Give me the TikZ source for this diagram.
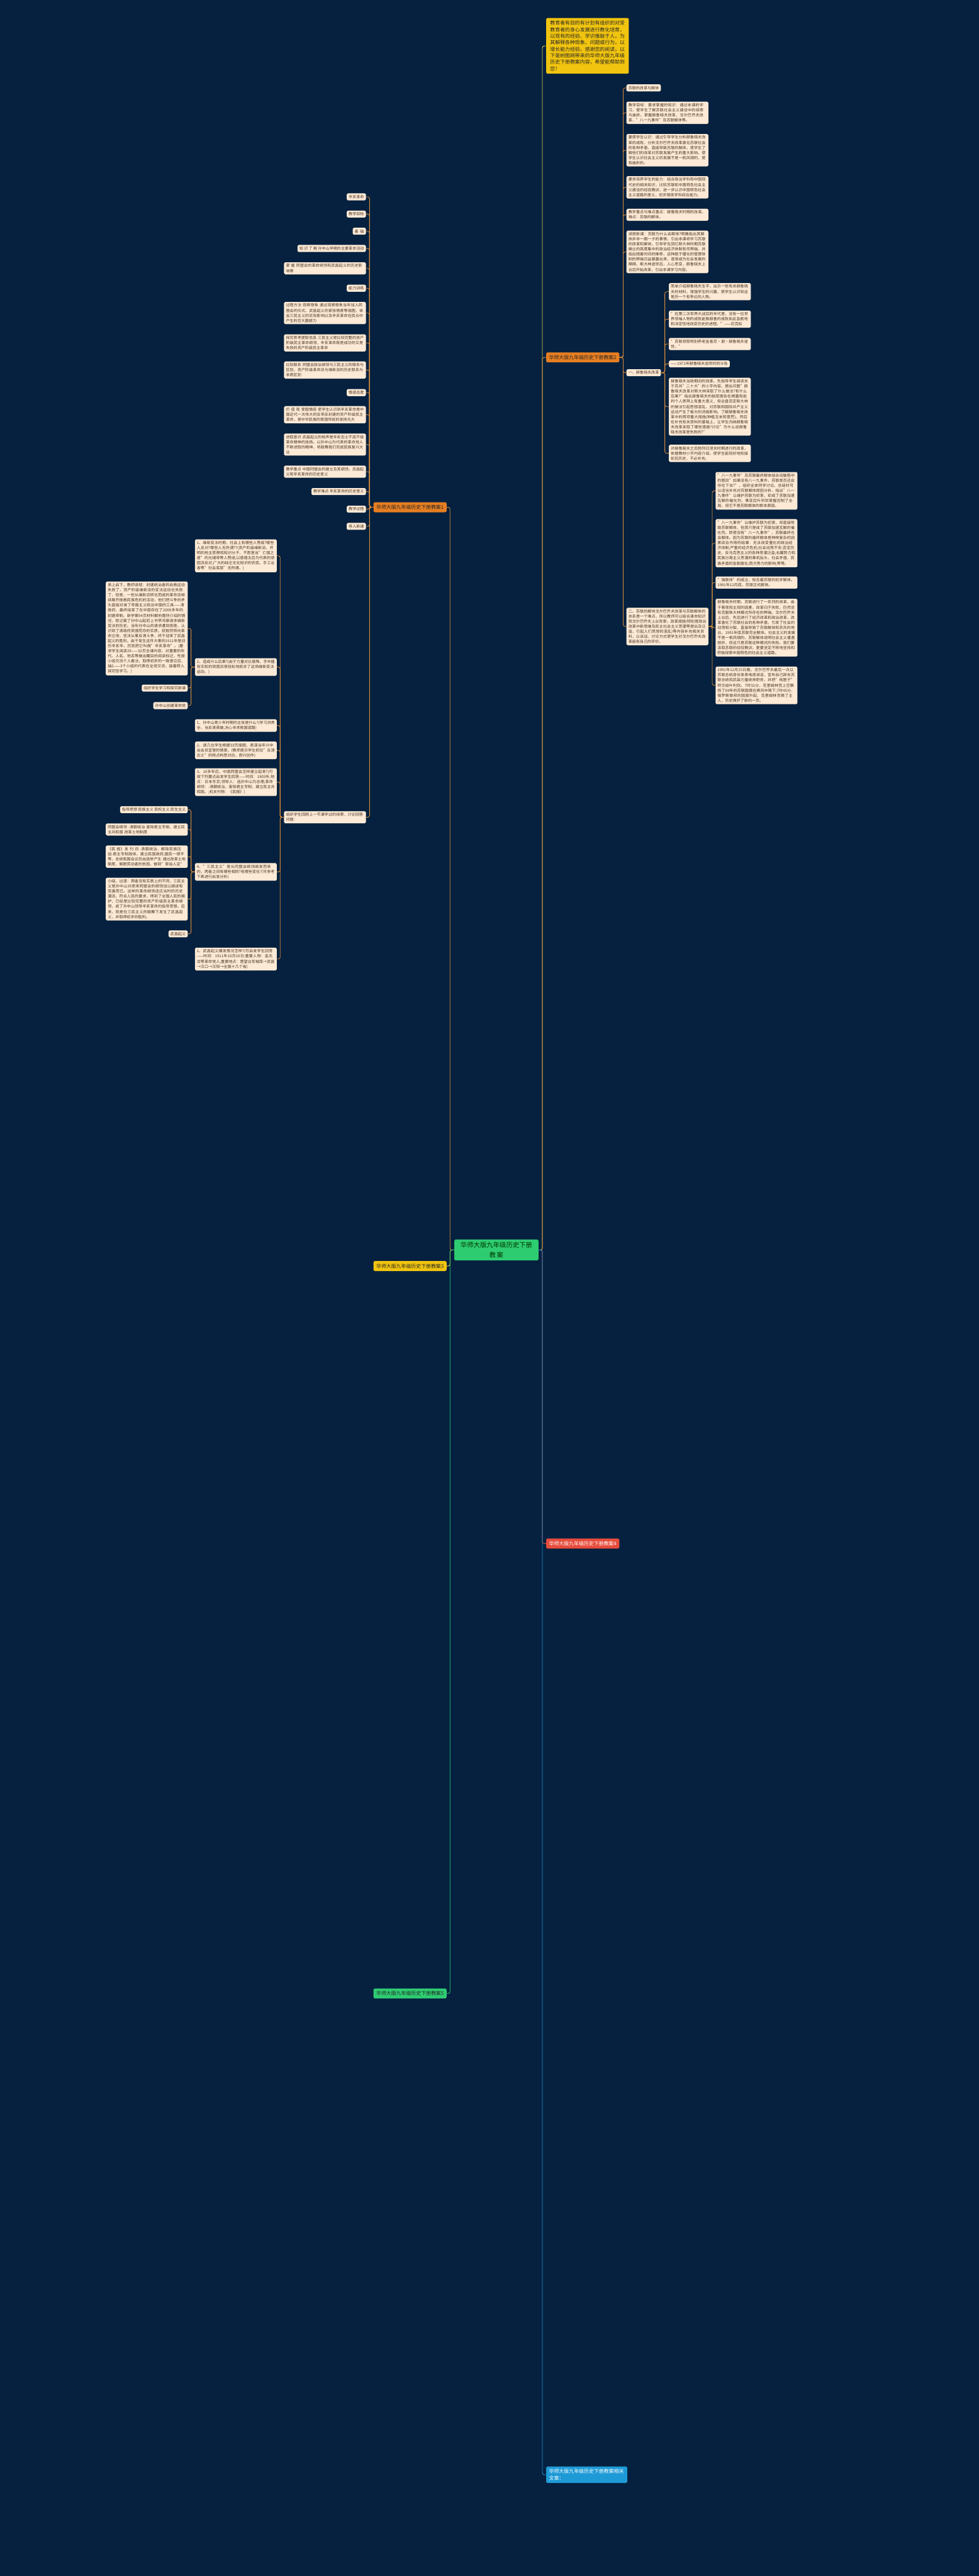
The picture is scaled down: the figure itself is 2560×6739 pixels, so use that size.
\documentclass[tikz,border=0pt]{standalone}
\usepackage{fontspec}
\setmainfont{Noto Sans CJK SC}
\XeTeXlinebreaklocale "zh"
\XeTeXlinebreakskip=0pt plus 1pt
\definecolor{bg}{HTML}{05213F}
\definecolor{peach}{HTML}{FCE9D6}
\definecolor{leaftxt}{HTML}{4A3520}
\definecolor{orangeline}{HTML}{D98A3A}
\definecolor{orangehead}{HTML}{E67E22}
\definecolor{yellowhead}{HTML}{F1C40F}
\definecolor{redhead}{HTML}{E74C3C}
\definecolor{greenhead}{HTML}{2ECC71}
\definecolor{bluehead}{HTML}{1E9BD7}
\tikzset{
  every node/.style={font=\fontsize{10}{13.3}\selectfont},
  leaf/.style={rounded corners=3pt, inner xsep=5pt, inner ysep=4.5pt, align=left},
  lo/.style={leaf, fill=peach, text=leaftxt},
  w/.style={text width=204pt},
  head/.style={rounded corners=4pt, inner xsep=7.5pt, inner ysep=7pt, font=\fontsize{13}{17}\selectfont},
  lineo/.style={draw=orangeline, line width=1.4pt, rounded corners=5pt},
  liney/.style={draw=yellowhead!80!white, line width=1.4pt, rounded corners=5pt},
  lineg/.style={draw=greenhead, line width=1.4pt, rounded corners=5pt},
  liner/.style={draw=redhead, line width=1.4pt, rounded corners=5pt},
  lineb/.style={draw=bluehead, line width=1.4pt, rounded corners=5pt},
}
\begin{document}
\begin{tikzpicture}[x=1pt,y=-1pt]
\useasboundingbox[fill=bg] (0,0) rectangle (2560,6739);

% centre and branches
\node[head, fill=greenhead, text=black!80!green, inner xsep=14pt, inner ysep=7pt, align=center,
  font=\fontsize{17}{25}\selectfont, text width=192pt] (root) at (1298,3270) {华师大版九年级历史下册\\教案};
\node[head, fill=yellowhead, text=black!85, text width=195pt, inner xsep=10.5pt, inner ysep=7.5pt, align=left,
  anchor=west] (intro) at (1428,120) {教育者有目的有计划有组织的对受教育者的身心发展进行教化培育，以现有的经验、学识推敲于人，为其解释各种现象、问题或行为，以增长能力经验。感谢您的阅读，以下是树图网带来的华师大版九年级历史下册教案内容，希望能帮助到您！};
\node[head, fill=orangehead, text=black!85, anchor=east] (b1) at (1168,1327) {华师大版九年级历史下册教案1};
\node[head, fill=orangehead, text=black!85, anchor=west] (b2) at (1428,935) {华师大版九年级历史下册教案2};
\node[head, fill=yellowhead, text=black!85, anchor=east] (b3) at (1168,3312) {华师大版九年级历史下册教案3};
\node[head, fill=redhead, text=white, anchor=west] (b4) at (1428,4038) {华师大版九年级历史下册教案4};
\node[head, fill=greenhead, text=black!85, anchor=east] (b5) at (1168,5215) {华师大版九年级历史下册教案5};
\node[head, fill=bluehead, text=white, text width=197pt, align=left, anchor=west] (b6) at (1428,6474) {华师大版九年级历史下册教案相关文章：};

% branch 1
\node[lo, anchor=east] (b1a) at (957,515) {辛亥革命};
\node[lo, anchor=east] (b1b) at (957,560) {教学目标};
\node[lo, anchor=east] (b1c) at (957,605) {基\ \ 础};
\node[lo, anchor=east] (b1d) at (957,650) {知\ 识\ 了\ 解\ 孙中山早期的主要革命活动};
\node[lo, w, anchor=east] (b1e) at (957,702) {掌\ 握\ 同盟会的革命纲领和武昌起义的历史影响等};
\node[lo, anchor=east] (b1f) at (957,754) {能力训练};
\node[lo, w, anchor=east] (b1g) at (957,819) {过程方法 观察想象 通过观察想象当年加入同盟会的仪式、武昌起义的紧张情景等插图，体会三民主义的实际影响以及辛亥革命在民众中产生的巨大震撼力};
\node[lo, w, anchor=east] (b1h) at (957,897) {探究思考提取信息 三民主义是比较完整的资产阶级民主革命纲领，辛亥革命既是成功的又是失败的资产阶级民主革命};
\node[lo, w, anchor=east] (b1i) at (957,968) {比较联系 同盟会政治纲领与三民主义的联系与区别，资产阶级革命派与维新派的历史联系与本质区别};
\node[lo, anchor=east] (b1j) at (957,1027) {情感态度};
\node[lo, w, anchor=east] (b1k) at (957,1085) {价\ 值\ 观 爱国情感 使学生认识到辛亥革命是中国近代一次伟大的反帝反封建的资产阶级民主革命，是中华民族的爱国传统的发扬光大};
\node[lo, w, anchor=east] (b1l) at (957,1163) {进取意识 武昌起义的枪声是辛亥志士不屈不挠革命精神的张扬。以孙中山为代表的革命党人不断进取的精神，将鼓舞我们完成民族复兴大业};
\node[lo, w, anchor=east] (b1m) at (957,1234) {教学重点 中国同盟会的建立及其纲领，武昌起义和辛亥革命的历史意义};
\node[lo, anchor=east] (b1n) at (957,1286) {教学难点 辛亥革命的历史意义};
\node[lo, anchor=east] (b1o) at (957,1332) {教学过程};
\node[lo, anchor=east] (b1p) at (957,1377) {导入新课};
\node[lo, w, anchor=east] (b1q) at (957,2138) {组织学生回顾上一节课学过的线索，讨论回答问题：};

\node[lo, w, anchor=east] (q1) at (724,1454) {1、维新变法时期，社会上有哪些人赞成?哪些人反对?哪些人无所谓??(资产阶级维新派、开明的地主官僚和知识分子、不愿意当"亡国之君"的光绪帝等人赞成;以慈禧太后为代表的顽固派反对;广大的缺乏文化知识的农民、手工业者等"社会底层"无所谓。)};
\node[lo, w, anchor=east] (q2) at (724,1745) {2、造成什么后果?(由于力量对比悬殊，手中握有实权的顽固派很轻松地扼杀了这场维新变法运动。)};
\node[lo, w, anchor=east] (q3) at (724,1898) {1、孙中山青少年时期的主张是什么?(学习洪秀全，当反清英雄;决心寻求救国道路)};
\node[lo, w, anchor=east] (q4) at (724,1963) {2、请几位学生根据33页插图，表演当年兴中会会员宣誓的情景。(教师提示学生抓住"反清志士"的特点构思对白，即兴创作)};
\node[lo, w, anchor=east] (q5) at (724,2046) {3、10多年后，中国同盟会怎样建立起来?(可按下列要点启发学生回答——时间：1905年;地点：日本东京;领导人：选孙中山为总理;革命纲领：-清朝统治，废除君主专制，建立民主共和国。;机关刊物：《民报》)};
\node[lo, w, anchor=east] (q6) at (724,2281) {4、"三民主义"是从同盟会纲领阐发而来的，两者之间有哪些相同?有哪些变化?(可参考下表进行启发分析)};
\node[lo, w, anchor=east] (q7) at (724,2509) {1、武昌起义爆发情况怎样?(可启发学生回答——时间：1911年10月10日;重要人物：金兆龙等革命党人;重要地点：楚望台军械库→武昌→汉口→汉阳→全国十几个省)};

\node[lo, w, anchor=east] (q2a) at (491,1644) {承上启下，教师讲授：封建统治者的自救运动失败了，资产阶级维新派的变法运动也失败了，但是，一些从维新派转化而成的革命派继续展开挽救民族危机的活动，他们把斗争的矛头直接对准了帝国主义统治中国的工具——清政府，最终结束了在中国存在了2000多年的封建帝制。新学案94页材料解析题所介绍的情况，就记载了孙中山起初上书李鸿章请求维新变法的历史。当年孙中山的请求遭到拒绝，认识到了清政府卖国苟存的实质，就毅然转向革命立场，坚决从事反清斗争，终于迎来了武昌起义的胜利。由于发生这件大事的1911年是旧历辛亥年，历就把它叫做"辛亥革命"。(要求学生阅读29——32页全课内容，对重要的年代、人名、地名等做出醒目的阅读标记，先按小组交流个人看法，取得初步的一致意见后，抽2——3个小组的代表在全班交流，接着转入探究性学习。)};
\node[lo, anchor=east] (q2b) at (491,1800) {组织学生学习和探究新课};
\node[lo, anchor=east] (q2c) at (491,1846) {孙中山创建革命党};

\node[lo, anchor=east] (q6a) at (491,2118) {指导思想 民族主义 民权主义 民生主义};
\node[lo, w, anchor=east] (q6b) at (491,2170) {同盟会纲领 -清朝统治 废除君主专制，建立民主共和国 改革土地制度};
\node[lo, w, anchor=east] (q6c) at (491,2241) {《民\ 报》发\ 刊\ 词 -清朝统治，解除民族压迫-君主专制政体，建立民国政府;国民一律平等，总统和国会议员由选举产生 通过改革土地制度，解脱劳动者的贫困，做到"家给人足"};
\node[lo, w, anchor=east] (q6d) at (491,2352) {小结、过渡：两者没有实质上的不同，三民主义是孙中山对原来同盟会的纲领加以阐述和完善而已。这样的革命纲领适应当时的历史潮流，符合人民的要求，得到了全国人民的拥护，已经是比较完整的资产阶级民主革命纲领，成了孙中山领导辛亥革命的指导思想。后来，就是在三民主义的鼓舞下发生了武昌起义，并取得初步的胜利。};
\node[lo, anchor=east] (q6e) at (491,2443) {武昌起义};

% branch 2
\node[lo, anchor=west] (b2a) at (1638,230) {苏联的改革与解体};
\node[lo, w, anchor=west] (b2b) at (1638,295) {教学目标：要求掌握的知识：通过本课的学习，使学生了解苏联社会主义建设中的探索与曲折。掌握赫鲁晓夫改革，戈尔巴乔夫改革，"八一九事件"及苏联解体等。};
\node[lo, w, anchor=west] (b2c) at (1638,393) {要使学生认识：通过引导学生分析赫鲁晓夫改革的成败，分析戈尔巴乔夫改革激化苏联社会的各种矛盾，直接导致苏联的解体，使学生了解他们的改革对苏联发展产生的重大影响。使学生认识社会主义的发展不是一帆风顺的，是有曲折的。};
\node[lo, w, anchor=west] (b2d) at (1638,490) {要求培养学生的能力：结合政治学科和中国现代史的相关知识，比较苏联和中国特色社会主义建设的经验教训，进一步认识中国特色社会主义道路的意义，初步锻炼学科综合能力。};
\node[lo, w, anchor=west] (b2e) at (1638,562) {教学重点与难点重点：赫鲁晓夫时期的改革。难点：苏联的解体。};
\node[lo, w, anchor=west] (b2f) at (1638,659) {讲授新课：苏联为什么会解体?明确指出其解体并非一朝一夕的事情，引出本课将学习苏联的改革和解体。引导学生回忆斯大林时期苏联确立的高度集中的政治经济体制有何弊端，并指出随着时间的推移，这种趋于僵化的管理体制的弊端日益暴露出来，逐渐成为社会发展的障碍。斯大林逝世后，人心思变，赫鲁晓夫上台后开始改革，引出本课学习内容。};
\node[lo, anchor=west] (b2g) at (1638,975) {一、赫鲁晓夫改革};
\node[lo, w, anchor=west] (b2h) at (1638,1639) {二、苏联的解体戈尔巴乔夫改革与苏联解体的关系是一个难点，所以教师可以结合课本知识就戈尔巴乔夫上台背景，改革措施(特别是政治改革中新思维及民主社会主义思潮等提出及泛滥，引起人们思想的混乱)等内容补充相关资料，以谈话、讨论方式使学生对戈尔巴乔夫改革能有自己的评价。};

\node[lo, w, anchor=west] (g1) at (1749,763) {简单介绍赫鲁晓夫生平，出示一些有关赫鲁晓夫的材料，增强学生的兴趣，使学生认识到这是历一个有争议的人物。};
\node[lo, w, anchor=west] (g2) at (1749,835) {"在第二次世界大战后的年代里，没有一位世界领袖人物的成败能像赫鲁的成败如此急剧地和决定性地改变历史的进程。"——尼克松};
\node[lo, w, anchor=west] (g3) at (1749,900) {"苏联领取特别养老金者尼•谢•赫鲁晓夫逝世。"};
\node[lo, anchor=west] (g4) at (1749,952) {——1971年赫鲁晓夫逝世时的讣告};
\node[lo, w, anchor=west] (g5) at (1749,1064) {赫鲁晓夫当政期间的改革。先指导学生阅读关于苏共"二十大"的小字内容，提出问题"赫鲁晓夫改革对斯大林采取了什么做法?有什么后果?"指出赫鲁晓夫的秘密报告在揭露和批判个人崇拜上有重大意义，但全盘否定斯大林的做法引起思想混乱，对苏联和国际共产主义运动产生了极大的消极影响。了解赫鲁晓夫改革中的两项重大措施(种植玉米和垦荒)。然后在补充有关资料的基础上，让学生归纳赫鲁晓夫改革采取了哪些措施?讨论"为什么说赫鲁晓夫改革是失败的?"};
\node[lo, w, anchor=west] (g6) at (1749,1186) {对赫鲁晓夫之后勃列日涅夫时期进行的改革，依据教材小字内容介绍，使学生能较好地衔接前后历史，不必补充。};

\node[lo, w, anchor=west] (h1) at (1871,1284) {"八一九事件"及苏联最终解体结合动脑筋中的题目"如果没有八一九事件，苏联是否还会存在下去?"，组织全体同学讨论。总结时可以适当补充对苏联解体原因分析，指出"八一九事件"以维护苏联为初衷，却成了苏联加速瓦解的催化剂，事变后叶利钦掌握控制了全局，但它不是苏联解体的根本原因。};
\node[lo, w, anchor=west] (h2) at (1871,1421) {"八一九事件"以维护苏联为初衷，却直接导致苏联解体，但其只是成了苏联加速瓦解的催化剂。即使没有"八一九事件"，苏联最终也会解体。因为苏联的最终解体是种种复杂的因素综合作用的结果：无法改变僵化的政治经济体制;严重的经济危机;社会动荡不安;否定历史、反马克思主义的各种思潮泛滥;右翼势力和民族分离主义思潮的乘机抬头，社会矛盾、民族矛盾的急剧激化;西方势力的影响;等等。};
\node[lo, w, anchor=west] (h3) at (1871,1524) {"独联体"的成立，标志着苏联的初步解体。1991年12月底，苏联正式解体。};
\node[lo, w, anchor=west] (h4) at (1871,1642) {赫鲁晓夫时期，苏联进行了一系列的改革，由于客观和主观的因素，改革归于失败，仍然没有克服斯大林模式所存在的弊端。戈尔巴乔夫上台后，先后进行了经济改革和政治改革，改革激化了苏联社会的各种矛盾，引发了社会的动荡和分裂，直接导致了苏联解体和苏共的垮台。1991年底苏联完全解体。社会主义的发展不是一帆风顺的，苏联解体说明社会主义遭遇挫折，但这只是苏联这种模式的失败。我们要汲取苏联的经验教训，更要坚定不移地坚持和积极探索中国特色的社会主义道路。};
\node[lo, w, anchor=west] (h5) at (1871,1793) {1991年12月25日晚，戈尔巴乔夫最后一次以苏联总统身份发表电视讲话，宣布自己辞去苏联总统和武装力量统帅职务，并把"核匣子"转交给叶利钦。7时32分，克里姆林宫上空飘扬了69年的苏联国旗在寒风中降下;7时45分，俄罗斯联邦的国旗升起，克里姆林宫换了主人，历史揭开了新的一页。};

% connectors
\draw[liney] (root.east) -- ++(10,0) |- (intro.west);
\foreach \b/\s in {b2/lineo,b4/liner,b6/lineb} \draw[\s] (root.east) -- ++(10,0) |- (\b.west);
\foreach \b/\s in {b1/lineo,b3/liney,b5/lineg} \draw[\s] (root.west) -- ++(-11,0) |- (\b.east);
\foreach \c in {b1a,b1b,b1c,b1d,b1e,b1f,b1g,b1h,b1i,b1j,b1k,b1l,b1m,b1n,b1o,b1p,b1q}
  \draw[lineo] (b1.west) -- ++(-10,0) |- (\c.east);
\foreach \c in {q1,q2,q3,q4,q5,q6,q7} \draw[lineo] (b1q.west) -- ++(-10,0) |- (\c.east);
\foreach \c in {q2a,q2b,q2c} \draw[lineo] (q2.west) -- ++(-10,0) |- (\c.east);
\foreach \c in {q6a,q6b,q6c,q6d,q6e} \draw[lineo] (q6.west) -- ++(-10,0) |- (\c.east);
\foreach \c in {b2a,b2b,b2c,b2d,b2e,b2f,b2g,b2h} \draw[lineo] (b2.east) -- ++(10,0) |- (\c.west);
\foreach \c in {g1,g2,g3,g4,g5,g6} \draw[lineo] (b2g.east) -- ++(10,0) |- (\c.west);
\foreach \c in {h1,h2,h3,h4,h5} \draw[lineo] (b2h.east) -- ++(10,0) |- (\c.west);
\end{tikzpicture}
\end{document}
